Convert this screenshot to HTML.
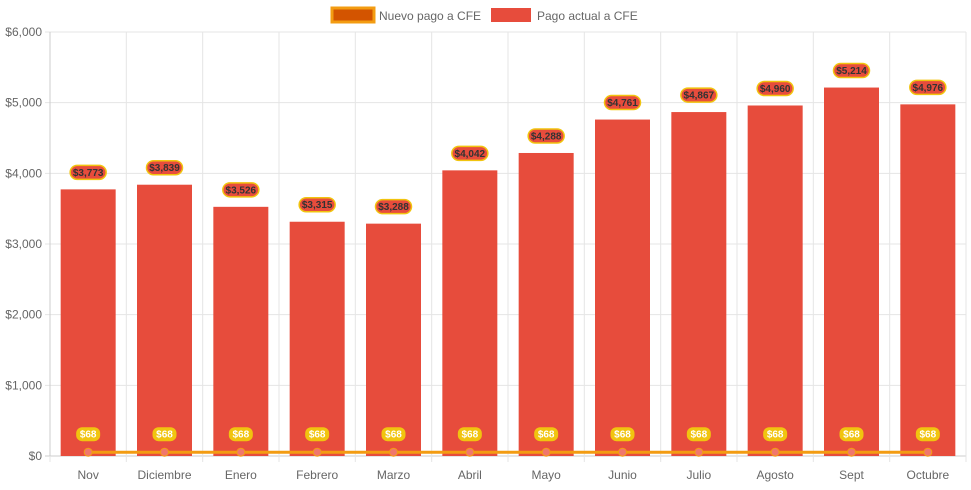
<!DOCTYPE html>
<html><head><meta charset="utf-8"><style>
body{margin:0;background:#fff;font-family:"Liberation Sans",Arial,sans-serif}
svg text{font-family:"Liberation Sans",Arial,sans-serif}
</style></head><body>
<svg id="c" width="971" height="485"></svg>
<script>
const categories=["Nov","Diciembre","Enero","Febrero","Marzo","Abril","Mayo","Junio","Julio","Agosto","Sept","Octubre"];
const actualValues=[3773,3839,3526,3315,3288,4042,4288,4761,4867,4960,5214,4976];
const newValues=[68,68,68,68,68,68,68,68,68,68,68,68];
const yTicks=[0,1000,2000,3000,4000,5000,6000];
const NS="http://www.w3.org/2000/svg";
const svg=document.getElementById('c');
const L=50,R=966,T=32,B=456,yMax=6000;
const bw=(R-L)/categories.length;
const y=v=>B-(v/yMax)*(B-T);
const xc=i=>L+bw*(i+0.5);
function el(t,a,p){const e=document.createElementNS(NS,t);for(const k in a)e.setAttribute(k,a[k]);(p||svg).appendChild(e);return e;}
const fmt=v=>"$"+v.toLocaleString("en-US");
yTicks.forEach(v=>{
 const g=el('line',{x1:L-5,x2:R,y1:y(v),y2:y(v),stroke:v===0?'#ccc':'#e5e5e5'});
 
 
 const t=el('text',{x:L-8,y:y(v)+4,'text-anchor':'end','font-size':12,fill:'#666'});
 t.textContent=fmt(v);
 
 
});
for(let i=0;i<=categories.length;i++){
 const g=el('line',{x1:L+bw*i,x2:L+bw*i,y1:T,y2:B+6,stroke:'#e5e5e5'});
 
 
}
el('line',{x1:L,x2:L,y1:T,y2:B,stroke:'#ccc'});
categories.forEach((c,i)=>{
 const t=el('text',{x:xc(i),y:B+23,'text-anchor':'middle','font-size':12,fill:'#666'});
 t.textContent=c;
 
 
 const b=el('rect',{x:xc(i)-27.5,y:y(actualValues[i]),width:55,height:B-y(actualValues[i]),fill:'#e74c3c'});
 
 
 const ly=y(actualValues[i])-17;
 const p=el('rect',{x:xc(i)-18,y:ly-7,width:36,height:14,rx:7,fill:'#e74c3c',stroke:'#f1c40f','stroke-width':1.5});
 
 
 const lt=el('text',{x:xc(i),y:ly+3.5,'text-anchor':'middle','font-size':10,'font-weight':'bold',fill:'#333'});
 lt.textContent=fmt(actualValues[i]);
 
 
});
const ln=el('polyline',{points:newValues.map((v,i)=>xc(i)+","+(y(v)+1)).join(" "),fill:'none',stroke:'#f39c12','stroke-width':3});


newValues.forEach((v,i)=>{
 const d=el('circle',{cx:xc(i),cy:y(v)+1,r:4,fill:'#f0776c',stroke:'#f39c12','stroke-width':1});
 
 
 const ly=y(v)-17;
 const p=el('rect',{x:xc(i)-12,y:ly-7,width:24,height:14,rx:6,fill:'#f1c40f'});
 
 
 const t=el('text',{x:xc(i),y:ly+3.5,'text-anchor':'middle','font-size':10,'font-weight':'bold',fill:'#fff'});
 t.textContent=fmt(v);
 
 
});
const lg=el('g',{});


const b1=el('rect',{x:332,y:8,width:42,height:14,fill:'#d35400',stroke:'#f39c12','stroke-width':3},lg);


const t1=el('text',{x:379,y:20,'font-size':12,fill:'#666'},lg);t1.textContent="Nuevo pago a CFE";


const b2=el('rect',{x:491,y:8,width:40,height:14,fill:'#e74c3c'},lg);


const t2=el('text',{x:537,y:20,'font-size':12,fill:'#666'},lg);t2.textContent="Pago actual a CFE";


</script>
</body></html>
